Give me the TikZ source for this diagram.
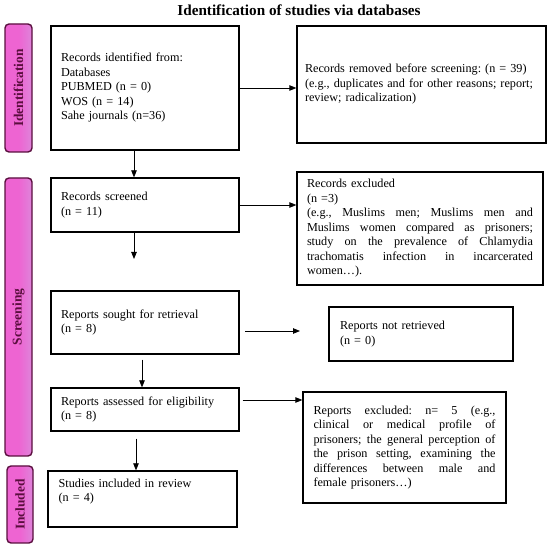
\documentclass[tikz,border=0pt]{standalone}
\usepackage{fontspec}
\setmainfont{Liberation Serif}
\usetikzlibrary{arrows.meta,calc}
\definecolor{barpink}{RGB}{238,100,210}
\definecolor{barlight}{RGB}{222,132,218}
\definecolor{bardark}{RGB}{90,14,62}
\newcommand{\jl}[2]{\leavevmode\hbox to #1{\spaceskip=0.25em plus 3em minus 0.05em\relax #2}}
\frenchspacing
\tikzset{
  box/.style={draw=black,line width=1.3pt,rectangle,inner sep=0pt,align=left,
    font=\fontsize{12.2}{14.5}\selectfont\frenchspacing},
  bar/.style={draw=bardark,left color=barpink,right color=barlight,middle color=barpink,
    line width=1.4pt,rounded corners=4pt,inner sep=0pt},
  barlabel/.style={rotate=90,text=bardark,font=\fontsize{13.4}{15}\selectfont\bfseries},
  arr/.style={line width=0.8pt,-{Triangle[length=7pt,width=5.5pt]}}
}
\begin{document}
\begin{tikzpicture}[x=1pt,y=-1pt]
\useasboundingbox[fill=white] (0,0) rectangle (550,548);
\node (title) at (299,10.5) {\fontsize{15.2}{17}\selectfont\bfseries Identification of studies via databases};
% side bars
\node[bar,minimum width=27pt,minimum height=128pt] (sb1) at (18.5,88) {};
\node[barlabel] (sl1) at (sb1.center) {Identification};
\node[bar,minimum width=27pt,minimum height=278pt] (sb2) at (18.5,317) {};
\node[barlabel] (sl2) at (sb2.center) {Screening};
\node[bar,minimum width=26pt,minimum height=77pt] (sb3) at (20,504.5) {};
\node[barlabel] (sl3) at (sb3.center) {Included};
% left column
\node[box,minimum width=188pt,minimum height=124pt,text width=168pt] (b1) at (145,88)
  {Records identified from:\\Databases\\PUBMED (n = 0)\\WOS (n = 14)\\Sahe journals (n=36)};
\node[box,minimum width=188pt,minimum height=54pt,text width=168pt] (b2) at (145,205)
  {Records screened\\(n = 11)};
\node[box,minimum width=188pt,minimum height=63pt,text width=168pt] (b3) at (145,322.5)
  {Reports sought for retrieval\\(n = 8)};
\node[box,minimum width=188pt,minimum height=43pt,text width=168pt] (b4) at (145,409.5)
  {Reports assessed for eligibility\\(n = 8)};
\node[box,minimum width=189pt,minimum height=56pt] (b5) at (142.5,499) {};
\node[box,draw=none,text width=169pt,anchor=north west] (b5t) at (58,478)
  {Studies included in review\\(n = 4)};
% right column
\node[box,minimum width=249pt,minimum height=117pt,text width=233pt] (r1) at (421.5,84.5)
  {Records removed before screening: (n = 39)\\(e.g., duplicates and for other reasons; report;\\review; radicalization)};
\node[box,minimum width=246pt,minimum height=113pt,text width=226pt] (r2) at (420,228.5)
  {Records excluded\\(n =3)\\\jl{226pt}{(e.g., Muslims men; Muslims men and}\\\jl{226pt}{Muslims women compared as prisoners;}\\\jl{226pt}{study on the prevalence of Chlamydia}\\\jl{226pt}{trachomatis infection in incarcerated}\\women…).};
\node[box,minimum width=184pt,minimum height=54pt,text width=162pt] (r3) at (421,334)
  {Reports not retrieved\\(n = 0)};
\node[box,minimum width=203pt,minimum height=111pt,text width=182pt] (r4) at (404.5,447.5)
  {\jl{182pt}{Reports excluded: n= 5 (e.g.,}\\\jl{182pt}{clinical or medical profile of}\\\jl{182pt}{prisoners; the general perception of}\\\jl{182pt}{the prison setting, examining the}\\\jl{182pt}{differences between male and}\\female prisoners…)};
% connectors
\coordinate (c1) at (134,259);
\coordinate (c2s) at (245,331);
\coordinate (c2e) at (300,331);
\draw[arr] (b1.east) -- (b1.east -| r1.west);
\draw[arr] ([xshift=-11pt]b1.south) -- ([xshift=-11pt]b2.north);
\draw[arr] (b2.east) -- (b2.east -| r2.west);
\draw[arr] ([xshift=-11pt]b2.south) -- (c1);
\draw[arr] (c2s) -- (c2e);
\draw[arr] ([xshift=-3pt,yshift=-5pt]b3.south) -- ([xshift=-3pt]b4.north);
\draw[arr] ([xshift=3pt,yshift=9.5pt]b4.east) -- ([yshift=47.5pt]r4.west);
\draw[arr] ([xshift=-9pt,yshift=-7pt]b4.south) -- ([xshift=-6.5pt]b5.north);
\end{tikzpicture}
\end{document}
